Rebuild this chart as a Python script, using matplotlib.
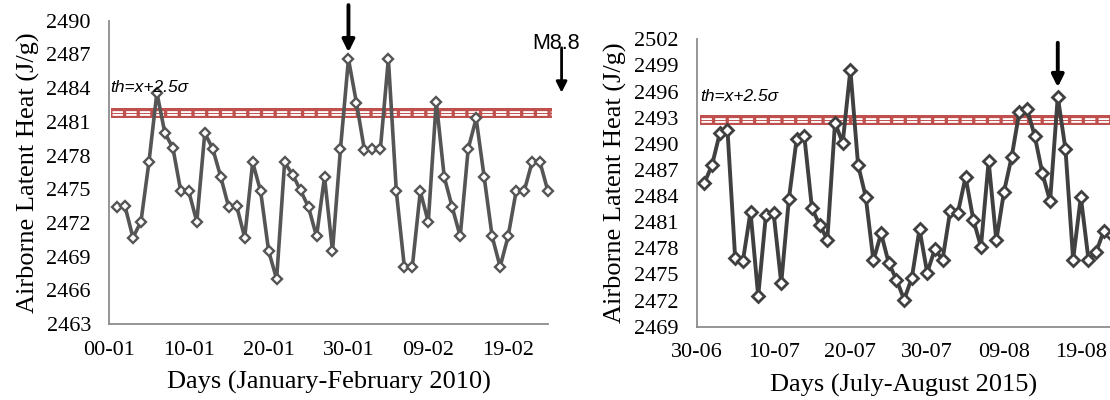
import matplotlib
matplotlib.use("Agg")
import matplotlib.pyplot as plt

# January-February 2010 (day numbers, Excel 1900 serials)
days_2010 = list(range(1, 56))
heat_2010 = [2473.4, 2473.5, 2470.7, 2472.1, 2477.4, 2483.6, 2480.0, 2478.7, 2474.8, 2474.8,
             2472.1, 2480.0, 2478.6, 2476.1, 2473.4, 2473.5, 2470.7, 2477.4, 2474.8, 2469.5,
             2467.0, 2477.4, 2476.3, 2474.9, 2473.4, 2470.8, 2476.1, 2469.5, 2478.6, 2486.6,
             2482.7, 2478.5, 2478.6, 2478.6, 2486.6, 2474.8, 2468.1, 2468.1, 2474.8, 2472.1,
             2482.8, 2476.1, 2473.4, 2470.8, 2478.6, 2481.3, 2476.1, 2470.8, 2468.1, 2470.8,
             2474.8, 2474.8, 2477.4, 2477.4, 2474.8]
ticks_2010 = [0, 10, 20, 30, 40, 50]
ticklabels_2010 = ["00-01", "10-01", "20-01", "30-01", "09-02", "19-02"]
th_2010 = 2481.8

# July-August 2015 (days after 30-06)
days_2015 = list(range(1, 55))
heat_2015 = [2485.5, 2487.6, 2491.2, 2491.6, 2476.9, 2476.5, 2482.2, 2472.5, 2481.8, 2482.1,
             2474.0, 2483.7, 2490.5, 2490.9, 2482.6, 2480.7, 2479.0, 2492.4, 2490.1, 2498.5,
             2487.6, 2483.9, 2476.6, 2479.7, 2476.3, 2474.4, 2472.1, 2474.6, 2480.2, 2475.2,
             2477.9, 2476.7, 2482.3, 2482.1, 2486.2, 2481.3, 2478.2, 2488.0, 2478.9, 2484.5,
             2488.5, 2493.7, 2494.0, 2490.9, 2486.6, 2483.4, 2495.4, 2489.4, 2476.7, 2483.9,
             2476.7, 2477.6, 2480.0, 2479.5]
ticks_2015 = [0, 10, 20, 30, 40, 50]
ticklabels_2015 = ["30-06", "10-07", "20-07", "30-07", "09-08", "19-08"]
th_2015 = 2492.7

RED = "#C0504D"
SERIF = "Liberation Serif"


def style_axes(ax, ticks, labels, yticks, xlabel):
    for s in ["top", "right"]:
        ax.spines[s].set_visible(False)
    for s in ["left", "bottom"]:
        ax.spines[s].set_color("#8c8c8c")
        ax.spines[s].set_linewidth(1.3)
    ax.set_xticks(ticks)
    ax.set_xticklabels(labels, fontfamily=SERIF, fontsize=16)
    ax.set_yticks(yticks)
    ax.set_yticklabels([str(v) for v in yticks], fontfamily=SERIF, fontsize=16)
    ax.tick_params(axis="both", length=0)
    ax.tick_params(axis="y", pad=13)
    ax.tick_params(axis="x", pad=12)
    ax.set_xlabel(xlabel, fontfamily=SERIF, fontsize=19, labelpad=8)
    ax.set_ylabel("Airborne Latent Heat (J/g)", fontfamily=SERIF, fontsize=19, labelpad=5)


def threshold(ax, y, x0, x1):
    ax.plot([x0, x1], [y, y], color=RED, lw=7.2, solid_capstyle="butt", clip_on=False, zorder=1)
    ax.plot([x0 + 0.15, x1 - 0.15], [y, y], color="white", lw=3.4, ls=(0, (2.2, 0.7)),
            dash_capstyle="butt", clip_on=False, zorder=1)
    ax.plot([x0 + 0.15, x1 - 0.15], [y, y], color=RED, lw=0.7, clip_on=False, zorder=1)


fig = plt.figure(figsize=(11.1, 4.0), dpi=100)

# left panel
ax1 = fig.add_axes([0.0982, 0.19, 0.3955, 0.758])
ax1.set_xlim(0, 55)
ax1.set_ylim(2463, 2490)
threshold(ax1, th_2010, 0.25, 55.5)
ax1.plot(days_2010, heat_2010, color="#555555", lw=2.6, marker="D", markersize=5.5,
         markerfacecolor="white", markeredgecolor="#555555", markeredgewidth=1.7,
         zorder=3, clip_on=False)
style_axes(ax1, ticks_2010, ticklabels_2010, list(range(2463, 2491, 3)),
           "Days (January-February 2010)")
ax1.text(0.15, 2484.1, "th=x+2.5\u03c3", fontfamily="Liberation Sans", style="italic",
         fontsize=12.5, va="center", ha="left", zorder=4)
ax1.annotate("", xy=(30, 2487.2), xytext=(30, 2491.4), annotation_clip=False,
             arrowprops=dict(arrowstyle="-|>", color="black", lw=2.8, mutation_scale=18,
                             shrinkA=0, shrinkB=0))
ax1.text(56.0, 2488.0, "M8.8", fontfamily="Liberation Sans", fontsize=15.5,
         ha="center", va="center", clip_on=False)
ax1.annotate("", xy=(56.7, 2483.6), xytext=(56.7, 2487.6), annotation_clip=False,
             arrowprops=dict(arrowstyle="-|>", color="black", lw=2.0, mutation_scale=16,
                             shrinkA=0, shrinkB=0))

# right panel
ax2 = fig.add_axes([0.6277, 0.1833, 0.3723, 0.7185])
ax2.set_xlim(0, 53.8)
ax2.set_ylim(2469, 2502)
threshold(ax2, th_2015, 0.45, 53.8)
ax2.plot(days_2015, heat_2015, color="#404040", lw=2.8, marker="D", markersize=6.4,
         markerfacecolor="white", markeredgecolor="#404040", markeredgewidth=2.0,
         zorder=3, clip_on=True)
style_axes(ax2, ticks_2015, ticklabels_2015, list(range(2469, 2503, 3)),
           "Days (July-August 2015)")
ax2.text(0.45, 2495.4, "th=x+2.5\u03c3", fontfamily="Liberation Sans", style="italic",
         fontsize=12.5, va="center", ha="left", zorder=4)
ax2.annotate("", xy=(47, 2496.5), xytext=(47, 2501.6), annotation_clip=False,
             arrowprops=dict(arrowstyle="-|>", color="black", lw=2.8, mutation_scale=18,
                             shrinkA=0, shrinkB=0))

fig.savefig("out.png", dpi=100)
